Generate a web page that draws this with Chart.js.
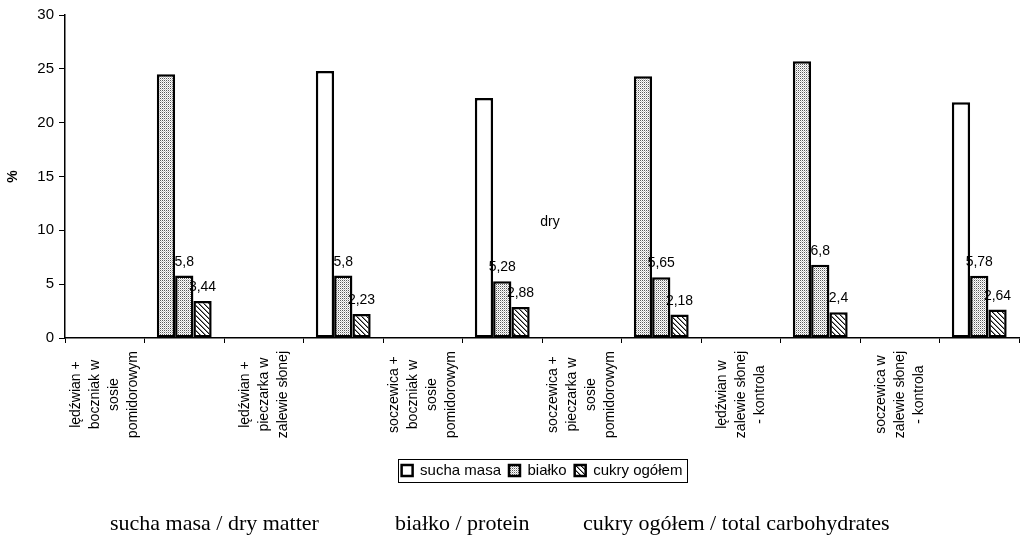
<!DOCTYPE html>
<html>
<head>
<meta charset="utf-8">
<script src="https://cdn.jsdelivr.net/npm/chart.js@4.4.1/dist/chart.umd.min.js"></script>
<style>
  html, body { margin: 0; padding: 0; background: #fff; }
</style>
</head>
<body>
<canvas id="chart" width="1023" height="540"></canvas>
<script>
// categories: odd slots carry the names, even slots carry the bars (as in the scanned original)
const categories = [
  ['lędźwian +', 'boczniak w', 'sosie', 'pomidorowym'], '',
  ['lędźwian +', 'pieczarka w', 'zalewie słonej'], '',
  ['soczewica +', 'boczniak w', 'sosie', 'pomidorowym'], '',
  ['soczewica +', 'pieczarka w', 'sosie', 'pomidorowym'], '',
  ['lędźwian w', 'zalewie słonej', '- kontrola'], '',
  ['soczewica w', 'zalewie słonej', '- kontrola'], ''
];
const seriesNames = ['sucha masa', 'białko', 'cukry ogółem'];
const suchaMasa = [null, 24.5, null, 24.8, null, 22.3, null, 24.3, null, 25.7, null, 21.9];
const bialko    = [null, 5.8,  null, 5.8,  null, 5.28, null, 5.65, null, 6.8,  null, 5.78];
const cukry     = [null, 3.44, null, 2.23, null, 2.88, null, 2.18, null, 2.4,  null, 2.64];
const yTicks = [0, 5, 10, 15, 20, 25, 30];
const captions = ['sucha masa / dry matter', 'białko / protein', 'cukry ogółem / total carbohydrates'];
const strayNote = 'dry';

// sucha masa bars that came out stippled in the scan
const stippledSucha = [1, 7, 9];

function makePattern(kind) {
  const c = document.createElement('canvas');
  const g = c.getContext('2d');
  if (kind === 'dots') {
    c.width = 2; c.height = 2;
    g.fillStyle = '#fff'; g.fillRect(0, 0, 2, 2);
    g.fillStyle = '#5a5a5a'; g.fillRect(0, 0, 1, 1);
    g.fillStyle = '#c4c4c4'; g.fillRect(1, 1, 1, 1);
  } else {
    c.width = 5; c.height = 5;
    g.fillStyle = '#fff'; g.fillRect(0, 0, 5, 5);
    for (let i = 0; i < 5; i++) {
      g.fillStyle = '#111'; g.fillRect(i, i, 1, 1);
      g.fillStyle = '#888'; g.fillRect((i + 1) % 5, i, 1, 1);
    }
  }
  return g.createPattern(c, 'repeat');
}
const dots = makePattern('dots');
const hatch = makePattern('hatch');

const sansFont = '"Liberation Sans", Arial, sans-serif';

const extras = {
  id: 'extras',
  afterDatasetsDraw(chart) {
    const { ctx } = chart;
    ctx.save();
    ctx.font = '14px ' + sansFont;
    ctx.fillStyle = '#000';
    ctx.textAlign = 'center';
    ctx.textBaseline = 'alphabetic';
    [1, 2].forEach(di => {
      const meta = chart.getDatasetMeta(di);
      chart.data.datasets[di].data.forEach((v, i) => {
        if (v == null) return;
        const el = meta.data[i];
        ctx.fillText(String(v).replace('.', ','), el.x, el.y - 10);
      });
    });
    ctx.restore();
  },
  afterDraw(chart) {
    const { ctx, scales: { x } } = chart;
    ctx.save();
    ctx.fillStyle = '#000';

    // rotated, centred multi-line category names
    ctx.font = '14px ' + sansFont;
    ctx.textAlign = 'center';
    ctx.textBaseline = 'middle';
    const lh = 19;
    categories.forEach((lines, i) => {
      if (!Array.isArray(lines)) return;
      const cx = x.getPixelForValue(i);
      const maxW = Math.max(...lines.map(l => ctx.measureText(l).width));
      ctx.save();
      ctx.translate(cx, x.top + 13);
      ctx.rotate(-Math.PI / 2);
      lines.forEach((l, j) => {
        ctx.fillText(l, -maxW / 2, (j - (lines.length - 1) / 2) * lh);
      });
      ctx.restore();
    });

    // frame round the legend
    const hb = chart.legend.legendHitBoxes;
    if (hb && hb.length) {
      const l = Math.min(...hb.map(h => h.left)) - 4;
      const r = Math.max(...hb.map(h => h.left + h.width)) + 4;
      const t = Math.min(...hb.map(h => h.top)) - 4;
      const b = Math.max(...hb.map(h => h.top + h.height)) + 4;
      ctx.strokeStyle = '#000';
      ctx.lineWidth = 1;
      ctx.strokeRect(Math.round(l) + 0.5, Math.round(t) + 0.5, Math.round(r - l), Math.round(b - t));
    }

    // stray note in the plot
    ctx.font = '14px ' + sansFont;
    ctx.textAlign = 'center';
    ctx.textBaseline = 'middle';
    ctx.fillText(strayNote, 550, 222);

    // captions under the chart
    ctx.font = '22px "Liberation Serif", "Times New Roman", serif';
    ctx.textAlign = 'left';
    ctx.textBaseline = 'alphabetic';
    const cx = [110, 395, 583];
    captions.forEach((c, i) => ctx.fillText(c, cx[i], 530));
    ctx.restore();
  }
};

new Chart(document.getElementById('chart'), {
  type: 'bar',
  data: {
    labels: categories,
    datasets: [
      {
        label: seriesNames[0], data: suchaMasa,
        backgroundColor: c => stippledSucha.includes(c.dataIndex) ? dots : '#fff'
      },
      { label: seriesNames[1], data: bialko, backgroundColor: dots },
      { label: seriesNames[2], data: cukry, backgroundColor: hatch }
    ].map(d => Object.assign(d, {
      borderColor: '#000', borderWidth: 2.5, borderSkipped: false,
      barPercentage: 1, categoryPercentage: 0.69
    }))
  },
  options: {
    responsive: false,
    animation: false,
    layout: { padding: { top: 15, right: 4, bottom: 52, left: 0 } },
    scales: {
      x: {
        grid: { drawOnChartArea: false, drawTicks: true, tickLength: 5, color: '#000', offset: true },
        border: { color: '#000', width: 1.5 },
        ticks: { display: false },
        afterFit: s => { s.height = 117; }
      },
      y: {
        min: 0, max: 30,
        afterBuildTicks: s => { s.ticks = yTicks.map(v => ({ value: v })); },
        grid: { drawOnChartArea: false, drawTicks: true, tickLength: 6, color: '#000' },
        border: { color: '#000', width: 1.5 },
        ticks: { color: '#000', padding: 5, font: { family: sansFont, size: 15 } },
        title: { display: true, text: '%', color: '#000', padding: { top: 5, bottom: 0 },
                 font: { family: sansFont, size: 14, weight: 'bold' } },
        afterFit: s => { s.width = 65; }
      }
    },
    plugins: {
      legend: {
        position: 'bottom',
        fullSize: false,
        labels: { color: '#000', boxWidth: 11, boxHeight: 11, padding: 8,
                  font: { family: sansFont, size: 15 } }
      },
      tooltip: { enabled: false }
    }
  },
  plugins: [extras]
});
</script>
</body>
</html>
